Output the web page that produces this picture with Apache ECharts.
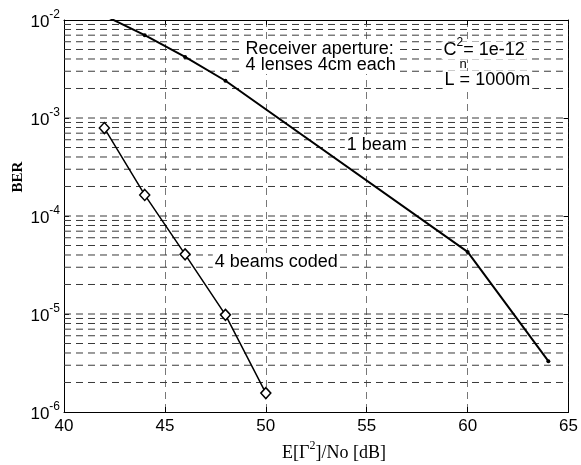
<!DOCTYPE html>
<html>
<head>
<meta charset="utf-8">
<script src="https://cdn.jsdelivr.net/npm/echarts@6/dist/echarts.min.js"></script>
<style>html,body{margin:0;padding:0;background:#fff}#c{width:581px;height:465px}</style>
</head>
<body>
<div id="c"></div>
<script>
// ---- data ----
const xTicks = [40, 45, 50, 55, 60, 65];
const yDecades = [1e-6, 1e-5, 1e-4, 1e-3, 1e-2];
const beam1X = [42, 44, 46, 48, 60, 64];
const beam1Y = [1.11e-2, 7.0e-3, 4.2e-3, 2.4e-3, 4.3e-5, 3.3e-6];
const coded4X = [42, 44, 46, 48, 50];
const coded4Y = [7.9e-4, 1.64e-4, 4.06e-5, 9.8e-6, 1.56e-6];
const annotText = ['Receiver aperture:\n4 lenses 4cm each', '{m|C}{s|2}{m|= 1e-12}', '{n|n}', 'L = 1000m', '1 beam', '4 beams coded'];
const annotX = [48.9, 58.71, 59.78, 58.76, 55.5, 50.52];
const annotY = [4.19e-3, 4.88e-3, 3.5e-3, 2.44e-3, 5.3e-4, 3.4e-5];
const annotAlign = ['left', 'left', 'center', 'left', 'center', 'center'];

const SANS = '"Liberation Sans", Arial, sans-serif';
const SERIF = '"Liberation Serif", "Times New Roman", serif';

// horizontal grid positions (decades and their 2..9 multiples)
const hGrid = [];
for (let i = 0; i < yDecades.length - 1; i++) {
  for (let m = 1; m <= 9; m++) {
    if (i === 0 && m === 1) continue;
    hGrid.push(yDecades[i] * m);
  }
}
const xMin = xTicks[0], xMax = xTicks[xTicks.length - 1];

const chart = echarts.init(document.getElementById('c'), null, {renderer: 'canvas'});

const richTick = {
  a: {fontFamily: SANS, fontSize: 17, color: '#000', verticalAlign: 'bottom'},
  s: {fontFamily: SANS, fontSize: 12, color: '#000', verticalAlign: 'bottom', padding: [0, 0, 10, 0]}
};

const gridSeries = hGrid.map(v => ({
  type: 'line', silent: true, z: 1, symbol: 'none',
  data: [[xMin, v], [xMax, v]],
  lineStyle: {color: '#3a3a3a', type: [7, 5], width: 1},
  emphasis: {disabled: true}
}));

chart.setOption({
  animation: false,
  backgroundColor: '#fff',
  grid: {left: 64, right: 12, top: 20, bottom: 53, containLabel: false},
  xAxis: [{
    type: 'value', min: xMin, max: xMax, interval: 5,
    axisLine: {show: true, onZero: false, lineStyle: {color: '#000', width: 1}},
    axisTick: {show: true, inside: true, length: 5, lineStyle: {color: '#000'}},
    axisLabel: {fontFamily: SANS, fontSize: 17, color: '#000', margin: 6},
    splitLine: {show: true, lineStyle: {color: '#777', type: [7, 5], width: 1}}
  }, {
    type: 'value', position: 'top', min: xMin, max: xMax, interval: 5,
    axisLine: {show: true, onZero: false, lineStyle: {color: '#000', width: 1}},
    axisTick: {show: true, inside: true, length: 5, lineStyle: {color: '#000'}},
    axisLabel: {show: false}, splitLine: {show: false}
  }],
  yAxis: [{
    type: 'log', logBase: 10, min: yDecades[0], max: yDecades[yDecades.length - 1], splitNumber: 4,
    axisLine: {show: true, onZero: false, lineStyle: {color: '#000', width: 1}},
    axisTick: {show: true, inside: true, length: 5, lineStyle: {color: '#000'}},
    axisLabel: {
      showMinLabel: true, showMaxLabel: true, margin: 4,
      formatter: function (v) { const e = Math.round(Math.log10(v)); return '{a|10}{s|' + e + '}'; },
      rich: richTick
    },
    splitLine: {show: false}
  }, {
    type: 'log', logBase: 10, position: 'right', min: yDecades[0], max: yDecades[yDecades.length - 1], splitNumber: 4,
    axisLine: {show: true, onZero: false, lineStyle: {color: '#000', width: 1}},
    axisTick: {show: true, inside: true, length: 5, lineStyle: {color: '#000'}},
    axisLabel: {show: false}, splitLine: {show: false}
  }],
  graphic: [
    {type: 'text', x: 18, y: 177, rotation: Math.PI / 2,
      style: {text: 'BER', font: 'bold 15px ' + SERIF, fill: '#000', align: 'center', verticalAlign: 'middle'}},
    {type: 'text', x: 334, y: 451,
      style: {text: '{a|E[Γ}{s|2}{a|]/No [dB]}', align: 'center', verticalAlign: 'middle',
        rich: {
          a: {fontFamily: SERIF, fontSize: 18, fill: '#000', verticalAlign: 'bottom'},
          s: {fontFamily: SERIF, fontSize: 12, fill: '#000', verticalAlign: 'bottom', padding: [0, 0, 10, 0]}
        }}}
  ],
  series: gridSeries.concat([
    {
      name: 'annot', type: 'scatter', symbolSize: 0, silent: true, z: 5,
      itemStyle: {opacity: 1},
      data: annotText.map((t, i) => ({
        value: [annotX[i], annotY[i]],
        label: {
          show: true, position: 'inside', formatter: t, align: annotAlign[i], verticalAlign: 'middle',
          fontFamily: SANS, fontSize: 18, color: '#000', lineHeight: 16,
          backgroundColor: i === 2 ? 'transparent' : '#fff', padding: [1, 2, 1, 2],
          rich: {
            m: {fontFamily: SANS, fontSize: 18, color: '#000', verticalAlign: 'bottom'},
            s: {fontFamily: SANS, fontSize: 12, color: '#000', verticalAlign: 'bottom', padding: [0, 0, 10, 0]},
            n: {fontFamily: SANS, fontSize: 13, color: '#000'}
          }
        }
      }))
    },
    {
      name: '4 beams coded', type: 'line', z: 10,
      data: coded4X.map((x, i) => [x, coded4Y[i]]),
      symbol: 'diamond', symbolSize: [10, 11], showAllSymbol: true,
      itemStyle: {color: '#fff', borderColor: '#000', borderWidth: 1.5},
      lineStyle: {color: '#000', width: 1.5}
    },
    {
      name: '1 beam', type: 'line', z: 10,
      data: beam1X.map((x, i) => [x, beam1Y[i]]),
      symbol: 'circle', symbolSize: 4, showAllSymbol: true,
      itemStyle: {color: '#000'},
      lineStyle: {color: '#000', width: 2}
    }
  ])
});
</script>
</body>
</html>
